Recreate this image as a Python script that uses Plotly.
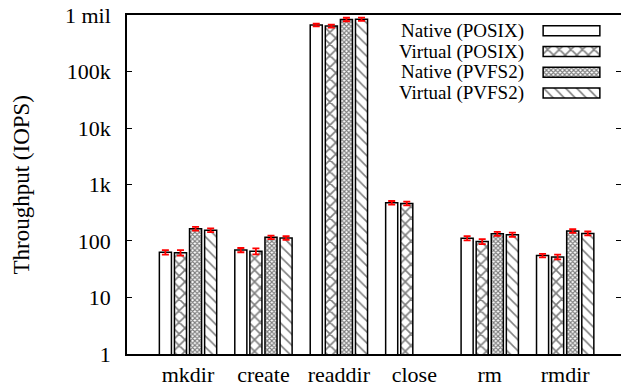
import plotly.graph_objects as go

# Metadata operation throughput, log scale
operations = ["mkdir", "create", "readdir", "close", "rm", "rmdir"]
series_names = ["Native (POSIX)", "Virtual (POSIX)", "Native (PVFS2)", "Virtual (PVFS2)"]

native_posix = [63, 69, 670000, 475, 112, 55]
virtual_posix = [62, 66, 640000, 461, 98, 52]
native_pvfs2 = [165, 116, 840000, None, 134, 150]
virtual_pvfs2 = [155, 113, 850000, None, 129, 136]

native_posix_err = [6, 6, 35000, 35, 10, 4]
virtual_posix_err = [7, 8, 40000, 35, 10, 5]
native_pvfs2_err = [13, 8, 60000, None, 11, 11]
virtual_pvfs2_err = [12, 8, 55000, None, 11, 11]

y_tickvals = [1, 10, 100, 1000, 10000, 100000, 1000000]
y_ticktext = ["1", "10", "100", "1k", "10k", "100k", "1 mil"]

FONT = "Liberation Serif"
W, H = 624, 392
L, R, T, B = 127, 3, 11, 38
PW, PH = W - L - R, H - T - B

patterns = [
    dict(shape="", fgcolor="black", bgcolor="white"),
    dict(shape="x", size=8.2, solidity=0.35, fgcolor="black", bgcolor="white"),
    dict(shape="x", size=3.2, solidity=0.6, fgcolor="black", bgcolor="white"),
    dict(shape="\\", size=7.8, solidity=0.2, fgcolor="black", bgcolor="white"),
]

values = [native_posix, virtual_posix, native_pvfs2, virtual_pvfs2]
errors = [native_posix_err, virtual_posix_err, native_pvfs2_err, virtual_pvfs2_err]
xpos = list(range(len(operations)))

fig = go.Figure()
for name, vals, errs, pat in zip(series_names, values, errors, patterns):
    fig.add_trace(go.Bar(
        x=xpos, y=vals, name=name, showlegend=False,
        marker=dict(color="white", line=dict(color="black", width=1.5), pattern=pat),
        error_y=dict(type="data", array=errs, color="red", thickness=1.8, width=3.5),
        xaxis="x", yaxis="y",
    ))


def px_x(p):
    return (p - L) / PW


def px_y(p):
    return 1 - (p - T) / PH


# key: swatches drawn as horizontal bars in a small inset axis, labels to their left
row_h = 21
key_top = 16.5
for i, (name, pat) in enumerate(zip(series_names, patterns)):
    fig.add_trace(go.Bar(
        x=[1], y=[i], orientation="h", width=0.48, showlegend=False, hoverinfo="skip",
        marker=dict(color="white", line=dict(color="black", width=1.5), pattern=pat),
        xaxis="x3", yaxis="y3",
    ))
    fig.add_annotation(
        text=name, xref="paper", yref="paper",
        x=px_x(526), y=px_y(key_top + row_h * (i + 0.5)),
        xanchor="right", yanchor="middle", showarrow=False,
        font=dict(family=FONT, size=19, color="black"),
    )

fig.add_annotation(
    text="Throughput (IOPS)", xref="paper", yref="paper",
    x=px_x(21), y=0.5, textangle=-90, xanchor="center", yanchor="middle",
    showarrow=False, font=dict(family=FONT, size=23, color="black"),
)

fig.update_layout(
    width=W, height=H,
    margin=dict(l=L, r=R, t=T, b=B),
    paper_bgcolor="white", plot_bgcolor="white",
    barmode="group", bargap=0.2, bargroupgap=0.2,
    font=dict(family=FONT, size=22, color="black"),
    xaxis=dict(
        range=[-0.809, 5.74], tickvals=xpos, ticktext=operations,
        showline=True, linecolor="black", linewidth=1.5, mirror=True,
        ticks="", showgrid=False, zeroline=False,
        tickfont=dict(family=FONT, size=22),
    ),
    yaxis=dict(
        type="log", range=[-0.003, 6.003], tickvals=y_tickvals, ticktext=y_ticktext,
        showline=True, linecolor="black", linewidth=1.5,
        ticks="inside", ticklen=5, tickcolor="black", tickwidth=1,
        showgrid=False, zeroline=False, ticklabelstandoff=10,
        ticklabeloverflow="allow",
        tickfont=dict(family=FONT, size=22),
    ),
    yaxis2=dict(
        type="log", range=[-0.003, 6.003], tickvals=y_tickvals, overlaying="y", side="right",
        showline=False, showticklabels=False, ticks="inside", ticklen=5,
        tickcolor="black", tickwidth=1, showgrid=False, zeroline=False,
    ),
    xaxis3=dict(domain=[px_x(542), px_x(601)], range=[-0.02, 1.02], visible=False, anchor="y3"),
    yaxis3=dict(domain=[px_y(key_top + 4 * row_h), px_y(key_top)], range=[3.5, -0.5],
                visible=False, anchor="x3"),
)

# invisible point so the right-hand tick axis gets drawn
fig.add_trace(go.Scatter(x=[0], y=[1], yaxis="y2", xaxis="x", mode="markers",
                         marker=dict(opacity=0), showlegend=False, hoverinfo="skip"))

fig.write_html("out.html")
